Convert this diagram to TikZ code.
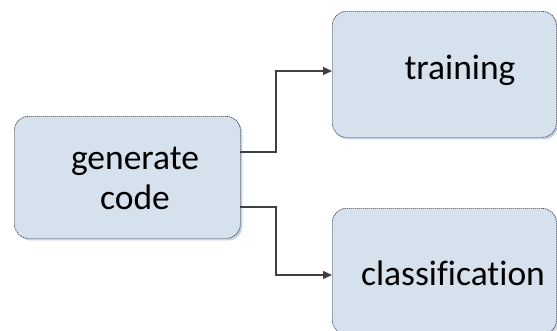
\documentclass[tikz,border=0pt]{standalone}
\usepackage{fontspec}
\setmainfont{Carlito}[Ligatures=NoCommon]
\usetikzlibrary{arrows.meta,shadows}
\definecolor{boxfill}{HTML}{D6E1EE}
\definecolor{boxline}{HTML}{4A4A4A}
\definecolor{shadowc}{HTML}{C5D3E6}
\definecolor{arrowc}{HTML}{404040}
\tikzset{
  stepbox/.style={draw=boxline, dashed, dash pattern=on 1.2pt off 0.8pt, line width=0.7pt,
    fill=boxfill, rounded corners=14pt,
    drop shadow={shadow xshift=2pt, shadow yshift=-2pt, fill=shadowc, opacity=1}},
  lbl/.style={font=\fontsize{35.5}{40}\selectfont, text=black, align=center},
  conn/.style={draw=arrowc, line width=1.3pt, -{Triangle[length=9pt,width=8pt]}}
}
\begin{document}
\begin{tikzpicture}[x=1pt,y=-1pt]
\useasboundingbox (0,0) rectangle (557,330);
\fill[white] (0,0) rectangle (557,330);
\node[stepbox, minimum width=226pt, minimum height=122pt, anchor=north west] (gen) at (14,116) {};
\node[stepbox, minimum width=224pt, minimum height=126pt, anchor=north west] (train) at (332,11) {};
\node[stepbox, minimum width=224pt, minimum height=126pt, anchor=north west] (cls) at (332,208) {};
\node[lbl] (gent) at (135,178) {generate\\code};
\node[lbl] (traint) at (460,70) {training};
\node[lbl] (clst) at (453,273) {classification};
\coordinate (g1) at (240,152);
\coordinate (g2) at (240,207);
\coordinate (t1) at (332,71);
\coordinate (c1) at (332,275);
\draw[conn] (g1) -| (276,71) -- (t1);
\draw[conn] (g2) -| (276,275) -- (c1);
\end{tikzpicture}
\end{document}
